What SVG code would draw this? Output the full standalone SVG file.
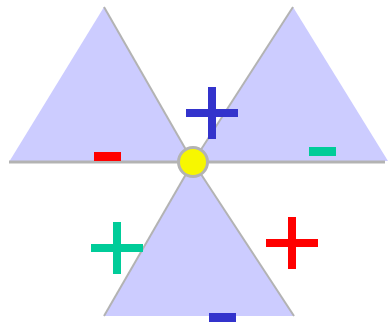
<svg xmlns="http://www.w3.org/2000/svg" width="388" height="323" viewBox="0 0 388 323">
<style>
.tri{fill:#ccccff;stroke:none}
.edge{stroke:#b3b3b3;stroke-width:2;fill:none;stroke-linecap:butt}
.base{stroke:#b3b3b3;stroke-width:3;fill:none}
.red{fill:#ff0000}
.green{fill:#00cc99}
.blue{fill:#3333cc}
</style>
<rect width="388" height="323" fill="#ffffff"/>
<g id="triangle-left">
<polygon class="tri" points="104,7 9,162 193,162"/>
</g>
<g id="triangle-right">
<polygon class="tri" points="293,7 193,162 388,161"/>
</g>
<g id="triangle-bottom">
<polygon class="tri" points="193,162 104,316 294,316"/>
</g>
<g id="connectors">
<line class="edge" x1="104" y1="7" x2="193" y2="162"/>
<line class="base" x1="9" y1="162" x2="193" y2="162"/>
<line class="edge" x1="293" y1="7" x2="193" y2="162"/>
<line class="base" x1="193" y1="162" x2="385" y2="162"/>
<line class="edge" x1="193" y1="162" x2="104" y2="316"/>
<line class="edge" x1="193" y1="162" x2="294" y2="316"/>
</g>
<g id="center">
<circle cx="193" cy="162" r="14.5" fill="#f7f700" stroke="#b3b3b3" stroke-width="3"/>
</g>
<g id="minus-red"><rect class="red" x="94" y="152" width="27" height="9"/></g>
<g id="minus-green"><rect class="green" x="309" y="147" width="27" height="9"/></g>
<g id="minus-blue"><rect class="blue" x="209" y="313" width="27" height="9"/></g>
<g id="plus-blue"><rect class="blue" x="208" y="87" width="8" height="52"/><rect class="blue" x="186" y="109" width="52" height="8"/></g>
<g id="plus-green"><rect class="green" x="113" y="222" width="8" height="52"/><rect class="green" x="91" y="244" width="52" height="8"/></g>
<g id="plus-red"><rect class="red" x="288" y="217" width="8" height="52"/><rect class="red" x="266" y="239" width="52" height="8"/></g>
</svg>
